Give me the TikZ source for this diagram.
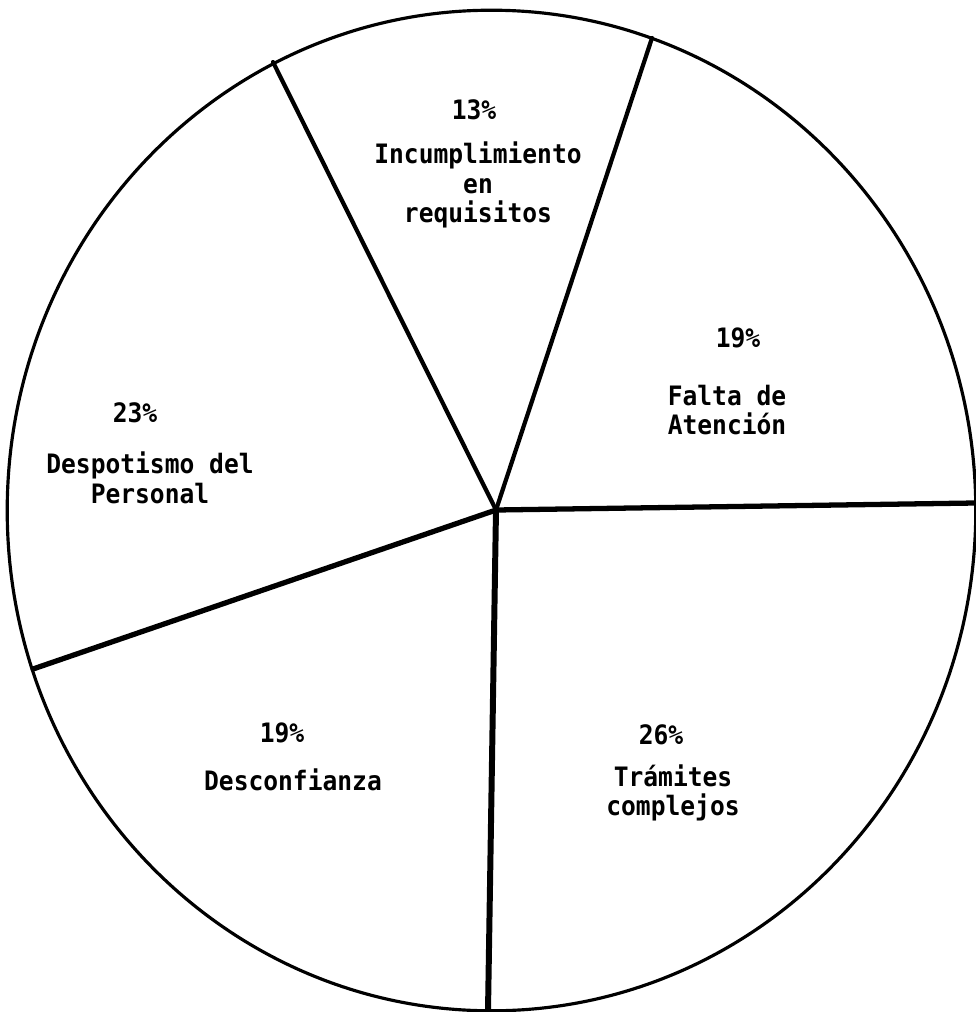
\documentclass[tikz,border=0pt]{standalone}
\usepackage{fontspec}
\newfontfamily\typefont{DejaVu Sans Mono}[FakeStretch=0.92]

\begin{document}
\begin{tikzpicture}[
        x=0.01cm,
        y=-0.01cm,
        every node/.style={font=\typefont\bfseries\fontsize{7.6}{8.4}\selectfont, align=center, inner sep=0},
        rim/.style={line width=.9pt},
    ]

    \useasboundingbox (0, 0) rectangle (976, 1012);

    % Define centre and rim points.
    \coordinate (o) at (496, 510);
    \coordinate (r1) at (273, 62);
    \coordinate (r2) at (652, 38);
    \coordinate (r3) at (975, 503);
    \coordinate (r4) at (488, 1011);
    \coordinate (r5) at (33, 669);

    \draw[rim] (491.5, 510.5) ellipse [x radius=4.84cm, y radius=5cm];

    \foreach \r/\w in {r1/1.2, r2/1.2, r3/1.5, r4/1.7, r5/1.5}
    {
        \draw[line width=\w pt, line cap=round] (o) -- (\r);
    }

    % Labels.
    \node (p13) at (474, 110) {13\%};
    \node (l13) at (478, 185) {Incumplimiento\\en\\requisitos};

    \node (p19a) at (738, 338) {19\%};
    \node (l19a) at (727, 410) {Falta de\\Atención};

    \node (p26) at (661, 735) {26\%};
    \node (l26) at (673, 793) {Trámites\\complejos};

    \node (p19b) at (282, 733) {19\%};
    \node (l19b) at (293, 780) {Desconfianza};

    \node (p23) at (135, 413) {23\%};
    \node (l23) at (150, 478) {Despotismo del\\Personal};
\end{tikzpicture}
\end{document}
